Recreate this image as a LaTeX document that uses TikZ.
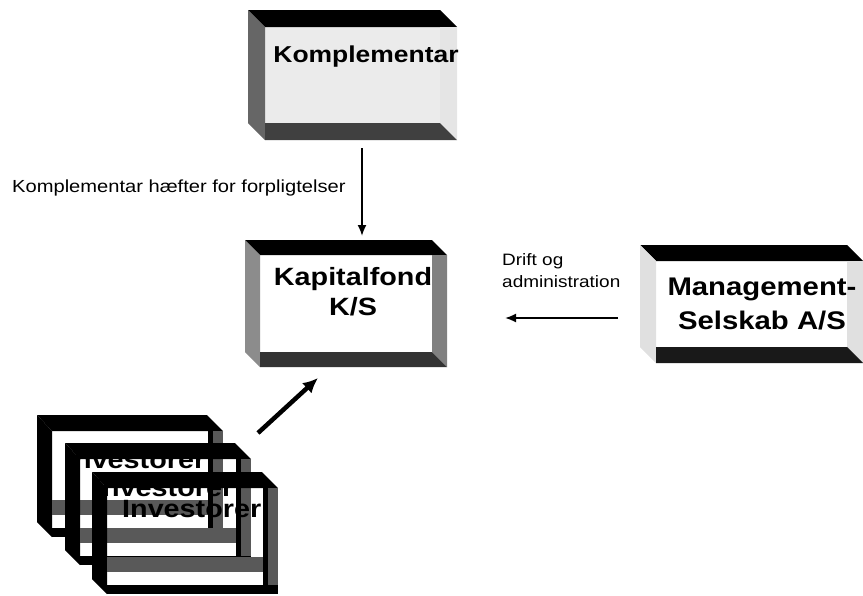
\documentclass[tikz,border=0pt]{standalone}
\usepackage{fontspec}
\newfontfamily\boxfont[FakeStretch=1.15]{Liberation Sans}
\usetikzlibrary{arrows.meta,fit}

% bevelled box: left, top, right, bottom, bevel width, style prefix
\newcommand{\bevelbox}[6]{%
  \fill[#6 face] (#1+#5,#2+#5) rectangle (#3-#5,#4-#5);
  \fill[#6 top] (#1,#2) -- (#3-#5,#2) -- (#3,#2+#5) -- (#1+#5,#2+#5) -- cycle;
  \fill[#6 left] (#1,#2) -- (#1+#5,#2+#5) -- (#1+#5,#4) -- (#1,#4-#5) -- cycle;
  \fill[#6 right] (#3-#5,#2+#5) -- (#3,#2+#5) -- (#3,#4) -- (#3-#5,#4-#5) -- cycle;
  \fill[#6 bottom] (#1+#5,#4-#5) -- (#3-#5,#4-#5) -- (#3,#4) -- (#1+#5,#4) -- cycle;
}

% one investor frame, top left corner at (#1,#2)
\newcommand{\investorbox}[2]{%
  \fill (#1,#2) -- (#1+170,#2) -- (#1+186,#2+16) -- (#1+15,#2+16) -- cycle;
  \fill (#1,#2) -- (#1+15,#2+16) -- (#1+15,#2+122) -- (#1,#2+107) -- cycle;
  \fill (#1+171,#2+16) rectangle (#1+176,#2+113);
  \fill[inv shade] (#1+176,#2+16) rectangle (#1+186,#2+113);
  \fill[inv shade] (#1+15,#2+85) rectangle (#1+171,#2+100);
  \fill (#1+15,#2+113) rectangle (#1+186,#2+122);
}

\tikzset{
  komp face/.style={fill=black!8}, komp top/.style={fill=black},
  komp left/.style={fill=black!60}, komp right/.style={fill=black!10},
  komp bottom/.style={fill=black!75},
  fond face/.style={fill=white}, fond top/.style={fill=black},
  fond left/.style={fill=black!45}, fond right/.style={fill=black!50},
  fond bottom/.style={fill=black!80},
  mgmt face/.style={fill=white}, mgmt top/.style={fill=black},
  mgmt left/.style={fill=black!12}, mgmt right/.style={fill=black!12},
  mgmt bottom/.style={fill=black!90},
  inv shade/.style={fill=black!65},
  boxlabel/.style={font=\boxfont\bfseries\fontsize{25}{30}\selectfont, inner sep=0},
  note/.style={font=\boxfont\fontsize{17}{22}\selectfont, inner sep=0},
  outline/.style={inner sep=0, outer sep=0},
  arrow/.style={-{Latex[length=11pt,width=9pt]}, line width=1.8pt},
  fat arrow/.style={-{Latex[length=15pt,width=14pt]}, line width=4.5pt},
}

\begin{document}
\begin{tikzpicture}[x=1pt,y=-1pt]
\useasboundingbox (0,0) rectangle (863,595);

% the three bevelled boxes
\bevelbox{248}{10}{457}{140}{17}{komp}
\node[outline, fit={(248,10) (457,140)}] (komp) {};
\node[boxlabel, font=\boxfont\bfseries\fontsize{23}{28}\selectfont, anchor=base] (komp text) at (366,62) {Komplementar};

\bevelbox{245}{240}{447}{367}{15}{fond}
\node[outline, fit={(245,240) (447,367)}] (fond) {};
\node[boxlabel, align=center, anchor=base] (fond text) at (353,315) {Kapitalfond\\K/S};

\bevelbox{640}{245}{863}{363}{16}{mgmt}
\node[outline, fit={(640,245) (863,363)}] (mgmt) {};
\node[boxlabel, font=\boxfont\bfseries\fontsize{25.5}{34}\selectfont, align=center, anchor=base] (mgmt text) at (762,329) {Management-\\Selskab A/S};

% stacked investor frames, back to front
\investorbox{37}{415}
\node[outline, fit={(37,415) (223,537)}] (inv1) {};
\node[boxlabel, anchor=base west] (inv1 text) at (66,468) {Investorer};
\investorbox{65}{443}
\node[outline, fit={(65,443) (251,565)}] (inv2) {};
\node[boxlabel, anchor=base west] (inv2 text) at (94,496) {Investorer};
\investorbox{92}{472}
\node[outline, fit={(92,472) (278,594)}] (inv3) {};
\node[boxlabel, anchor=base west] (inv3 text) at (122,517) {Investorer};

% connectors
\draw[arrow, shorten <=8pt, shorten >=4pt] ([xshift=9.5pt]komp.south) -- ([xshift=16pt]fond.north);
\draw[arrow, shorten <=22pt, shorten >=58pt] ([yshift=-14pt]mgmt.west) -- ([yshift=-14.5pt]fond.east);
\draw[fat arrow] ([xshift=35pt,yshift=-18pt]inv1.north east) -- ([xshift=-28pt,yshift=-11pt]fond.south);

% texts beside the arrows
\node[note, font=\boxfont\fontsize{17.5}{22}\selectfont, anchor=base west] (liability) at (12,192) {Komplementar hæfter for forpligtelser};
\node[note, font=\boxfont\fontsize{16.5}{22}\selectfont, align=left, anchor=base west] (operation) at (502,287) {Drift og\\administration};
\end{tikzpicture}
\end{document}
